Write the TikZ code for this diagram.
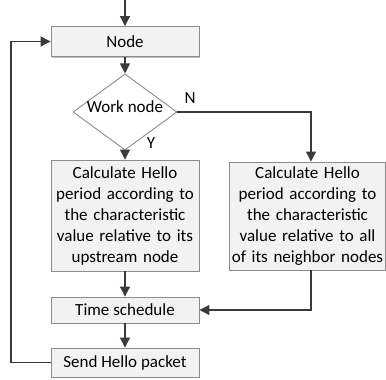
\documentclass[tikz,border=0pt]{standalone}
\usepackage{fontspec}
\setmainfont{Carlito}
\usetikzlibrary{shapes.geometric,arrows.meta,shadows}

\definecolor{boxline}{HTML}{8C8C8C}
\definecolor{boxfill}{HTML}{F2F2F2}
\definecolor{flow}{HTML}{3A3A3A}

\tikzset{
  procbox/.style={draw=boxline, line width=0.9pt, fill=boxfill, rectangle,
    inner sep=0pt, align=center,
    drop shadow={shadow xshift=1.2pt, shadow yshift=-1.2pt, fill=black, opacity=0.25}},
  decide/.style={draw=boxline, line width=0.9pt, fill=white, diamond,
    inner sep=0pt, minimum width=104pt, minimum height=53pt},
  flowline/.style={draw=flow, line width=1.1pt,
    -{Triangle[length=10pt,width=10pt]}},
  tag/.style={inner sep=0pt}
}

\begin{document}
\begin{tikzpicture}[x=1pt, y=-1pt, font=\fontsize{17}{21}\selectfont]
  \useasboundingbox (0,0) rectangle (386,380);

  \coordinate (start) at (125,0);

  \node[procbox, minimum width=148pt, minimum height=30pt] (node) at (125,41.5) {Node};
  \node[decide] (work) at (125,112) {\raisebox{0pt}[0pt][0pt]{Work node}};

  \node[procbox, minimum width=148pt, minimum height=111pt, text width=148pt] (up) at (125,215.5)
    {Calculate Hello\\period according to\\the characteristic\\value relative to its\\upstream node};
  \node[procbox, minimum width=156pt, minimum height=108pt, text width=156pt] (nb) at (307.5,216)
    {Calculate Hello\\period according to\\the characteristic\\value relative to all\\of its neighbor nodes};

  \node[procbox, minimum width=148pt, minimum height=26pt] (sched) at (125,310) {Time schedule};
  \node[procbox, minimum width=148pt, minimum height=29pt] (send) at (125,362.5) {Send Hello packet};

  \coordinate (loopx) at (11,0);

  % main flow
  \draw[flowline] (start) -- (node);
  \draw[flowline] (node) -- (work);
  \draw[flowline] (work) -- (up);
  \draw[flowline] (work.east) -| ([xshift=3.5pt]nb.north);
  \draw[flowline] (up) -- (sched);
  \draw[flowline] ([xshift=3.5pt]nb.south) |- (sched.east);
  \draw[flowline] (sched) -- (send);

  % loop back to the start
  \draw[flowline] (send.west) -- (send.west -| loopx) |- (node.west);

  % branch labels
  \node[tag] (ylab) at (151,143) {Y};
  \node[tag] (nlab) at (190,98) {N};
\end{tikzpicture}
\end{document}
